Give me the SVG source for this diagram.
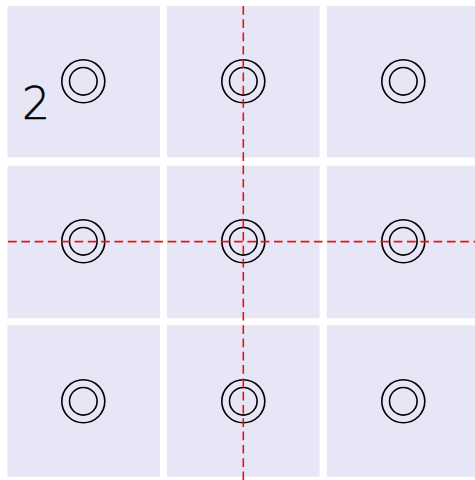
<svg xmlns="http://www.w3.org/2000/svg" width="475" height="480" viewBox="0 0 475 480">
<style>
.cell{fill:#e6e6f6;stroke:none}
.ring{fill:none;stroke:#000;stroke-width:1.6}
.guide{stroke:#f01010;stroke-width:1.6;stroke-dasharray:8.7 4.6;fill:none}
.lbl{font-family:"DejaVu Sans","Liberation Sans",sans-serif;font-weight:200;font-size:44px;fill:#000;stroke:#000;stroke-width:0.5}
</style>
<rect width="475" height="480" fill="#fff"/>
<g id="cells">
<rect class="cell" x="7.5" y="6" width="152.5" height="151.5"/>
<rect class="cell" x="167" y="6" width="152.5" height="151.5"/>
<rect class="cell" x="326.8" y="6" width="152.5" height="151.5"/>
<rect class="cell" x="7.5" y="165.7" width="152.5" height="152.5"/>
<rect class="cell" x="167" y="165.7" width="152.5" height="152.5"/>
<rect class="cell" x="326.8" y="165.7" width="152.5" height="152.5"/>
<rect class="cell" x="7.5" y="325.2" width="152.5" height="151.5"/>
<rect class="cell" x="167" y="325.2" width="152.5" height="151.5"/>
<rect class="cell" x="326.8" y="325.2" width="152.5" height="151.5"/>
</g>
<g id="label"><text class="lbl" x="22" y="119">2</text></g>
<g id="n11"><circle class="ring" cx="83.3" cy="81.3" r="21.5"/><circle class="ring" cx="83.3" cy="81.3" r="13.8"/></g>
<g id="n12"><circle class="ring" cx="243.3" cy="81.3" r="21.5"/><circle class="ring" cx="243.3" cy="81.3" r="13.8"/></g>
<g id="n13"><circle class="ring" cx="403.3" cy="81.3" r="21.5"/><circle class="ring" cx="403.3" cy="81.3" r="13.8"/></g>
<g id="n21"><circle class="ring" cx="83.3" cy="241.3" r="21.5"/><circle class="ring" cx="83.3" cy="241.3" r="13.8"/></g>
<g id="n22"><circle class="ring" cx="243.3" cy="241.3" r="21.5"/><circle class="ring" cx="243.3" cy="241.3" r="13.8"/></g>
<g id="n23"><circle class="ring" cx="403.3" cy="241.3" r="21.5"/><circle class="ring" cx="403.3" cy="241.3" r="13.8"/></g>
<g id="n31"><circle class="ring" cx="83.3" cy="401.3" r="21.5"/><circle class="ring" cx="83.3" cy="401.3" r="13.8"/></g>
<g id="n32"><circle class="ring" cx="243.3" cy="401.3" r="21.5"/><circle class="ring" cx="243.3" cy="401.3" r="13.8"/></g>
<g id="n33"><circle class="ring" cx="403.3" cy="401.3" r="21.5"/><circle class="ring" cx="403.3" cy="401.3" r="13.8"/></g>
<g id="connectors">
<line class="guide" x1="8" y1="241.6" x2="475" y2="241.6"/>
<line class="guide" x1="243.3" y1="6" x2="243.3" y2="480"/>
</g>
</svg>
